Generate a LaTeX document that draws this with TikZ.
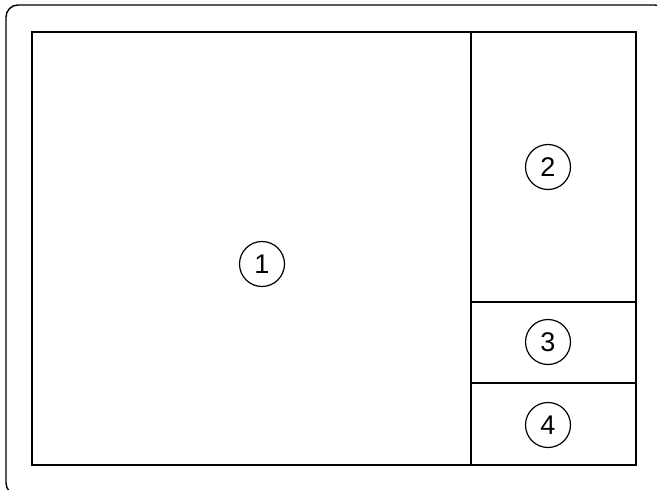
\documentclass[tikz,border=0pt]{standalone}
\usepackage{fontspec}
\setsansfont{Liberation Sans}
\usepackage{tikz}
\usetikzlibrary{positioning, calc}

\begin{document}
\begin{tikzpicture}[
    x=1pt, y=-1pt,
    font=\sffamily,
    % Frame styles
    outerframe/.style={draw=black, line width=1.4pt, rounded corners=12pt},
    panel/.style={draw=black, line width=1.8pt},
    divider/.style={draw=black, line width=1.5pt},
    % Number bubbles
    bubble/.style={circle, draw=black, line width=1.2pt, minimum size=45pt, inner sep=0pt, font=\sffamily\fontsize{27}{27}\selectfont}
]
\useasboundingbox (0,0) rectangle (657,490);

% -----------------------------------------------------------
% Outer sheet (cut off at right and bottom)
% -----------------------------------------------------------
\begin{scope}
    \clip (0,0) rectangle (657,490);
    \draw[outerframe] (6,5) rectangle (667,495);
\end{scope}

% -----------------------------------------------------------
% Panels
% -----------------------------------------------------------
\coordinate (tl) at (32,32);
\coordinate (br) at (636,465);
\coordinate (splittop) at (471,32);
\coordinate (splitbot) at (471,465);
\coordinate (cut1) at (471,302);
\coordinate (cut2) at (471,383);

\draw[panel] (tl) rectangle (br);
\draw[divider] (splittop) -- (splitbot);
\draw[divider] (cut1) -- (cut1 -| br);
\draw[divider] (cut2) -- (cut2 -| br);

% -----------------------------------------------------------
% Numbers
% -----------------------------------------------------------
\node[bubble] (one) at (262,264) {1};
\node[bubble] (two) at (548,167) {2};
\node[bubble] (three) at (548,342) {3};
\node[bubble] (four) at (548,425) {4};

\end{tikzpicture}
\end{document}
